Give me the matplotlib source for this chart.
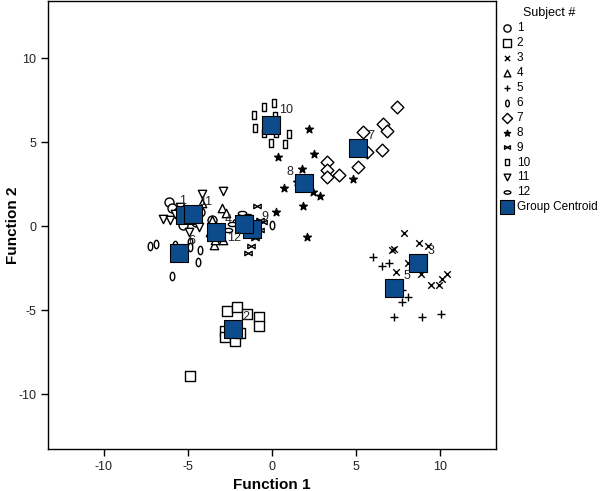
import matplotlib
matplotlib.use("Agg")
import matplotlib.pyplot as plt
from matplotlib.path import Path

plt.rcParams['font.family'] = ['Liberation Sans', 'DejaVu Sans']
plt.rcParams['axes.unicode_minus'] = False

# discriminant scores per subject (Function 1, Function 2)
s1_x = [-6.13, -5.95, -5.30, -4.29, -4.88, -3.57, -5.60, -4.52]
s1_y = [1.41, 1.05, 0.04, 0.81, 0.75, 0.34, 0.81, 0.22]
s2_x = [-2.68, -2.08, -1.49, -0.77, -0.77, -2.80, -2.80, -2.20, -1.90, -4.88]
s2_y = [-5.07, -4.83, -5.25, -5.43, -5.96, -6.26, -6.61, -6.85, -6.38, -8.93]
s3_x = [7.86, 7.14, 7.26, 8.75, 9.29, 8.10, 7.38, 8.87, 9.46, 9.94, 10.12, 10.42]
s3_y = [-0.44, -1.44, -1.39, -1.03, -1.20, -2.22, -2.75, -2.87, -3.52, -3.52, -3.17, -2.87]
s4_x = [-2.98, -3.57, -3.45, -3.39, -2.92, -2.74, -4.17, -3.69]
s4_y = [1.05, 0.34, -1.15, -0.85, -0.85, 0.75, 1.35, -0.37]
s5_x = [6.01, 6.55, 6.96, 7.74, 7.74, 8.10, 7.26, 8.93, 10.06]
s5_y = [-1.86, -2.39, -2.22, -3.82, -4.53, -4.24, -5.42, -5.42, -5.25]
s6_x = [-7.26, -6.90, -4.88, -4.88, -4.29, -5.77, -5.95, 0.00, -4.40]
s6_y = [-1.21, -1.09, -0.97, -1.27, -1.44, -1.15, -2.99, 0.04, -2.16]
s7_x = [3.27, 3.27, 3.27, 3.99, 5.12, 5.42, 6.61, 6.85, 5.65, 6.55, 7.44]
s7_y = [3.79, 3.31, 2.90, 3.07, 3.49, 5.63, 6.10, 5.69, 4.44, 4.50, 7.11]
s8_x = [2.20, 0.36, 2.50, 1.79, 1.49, 0.71, 2.44, 2.86, 1.85, 0.24, 2.08, 4.82]
s8_y = [5.75, 4.14, 4.32, 3.37, 2.60, 2.24, 2.00, 1.77, 1.18, 0.81, -0.67, 2.83]
s9_x = [-0.89, -0.71, -0.71, -1.01, -1.25, -1.43, -0.54, -1.90]
s9_y = [1.17, 0.34, -0.26, -0.73, -1.21, -1.62, 0.22, 0.22]
s10_x = [-1.07, -0.48, 0.12, 0.18, -1.01, -0.48, 0.24, 1.01, -0.06, 0.77]
s10_y = [6.64, 7.11, 7.35, 6.58, 5.81, 5.57, 5.57, 5.51, 4.97, 4.91]
s11_x = [-6.49, -6.07, -5.48, -4.94, -4.17, -2.92, -5.77, -4.35]
s11_y = [0.40, 0.34, 1.11, -0.37, 1.94, 2.06, 0.70, -0.08]
s12_x = [-1.79, -2.08, -1.43, -2.38, -1.19, -2.62, -0.95]
s12_y = [0.75, 0.28, 0.58, 0.10, 0.22, -0.26, -0.02]

subjects = ['1', '2', '3', '4', '5', '6', '7', '8', '9', '10', '11', '12']
xs = [s1_x, s2_x, s3_x, s4_x, s5_x, s6_x, s7_x, s8_x, s9_x, s10_x, s11_x, s12_x]
ys = [s1_y, s2_y, s3_y, s4_y, s5_y, s6_y, s7_y, s8_y, s9_y, s10_y, s11_y, s12_y]

centroid_x = [-5.18, -2.32, 8.69, -3.33, 7.26, -5.54, 5.12, 1.90, -1.19, -0.05, -4.70, -1.67]
centroid_y = [0.64, -6.14, -2.20, -0.37, -3.70, -1.63, 4.62, 2.54, -0.20, 6.00, 0.70, 0.10]

# custom marker shapes
circ = Path.unit_circle()
tall_ellipse = Path(circ.vertices * [0.55, 1.0], circ.codes)
flat_ellipse = Path(circ.vertices * [1.0, 0.5], circ.codes)
narrow_rect = Path([(-0.5, -1), (0.5, -1), (0.5, 1), (-0.5, 1), (-0.5, -1)],
                   [Path.MOVETO, Path.LINETO, Path.LINETO, Path.LINETO, Path.CLOSEPOLY])
bowtie = Path([(-1, 0.6), (1, -0.6), (1, 0.6), (-1, -0.6), (-1, 0.6)],
              [Path.MOVETO, Path.LINETO, Path.LINETO, Path.LINETO, Path.CLOSEPOLY])

styles = [
    dict(marker='o', s=42, facecolors='white', edgecolors='black'),
    dict(marker='s', s=42, facecolors='white', edgecolors='black'),
    dict(marker='x', s=22, c='black'),
    dict(marker='^', s=36, facecolors='white', edgecolors='black'),
    dict(marker='+', s=36, c='black'),
    dict(marker=tall_ellipse, s=36, facecolors='white', edgecolors='black'),
    dict(marker='D', s=42, facecolors='white', edgecolors='black'),
    dict(marker='*', s=34, c='black'),
    dict(marker=bowtie, s=28, facecolors='white', edgecolors='black'),
    dict(marker=narrow_rect, s=38, facecolors='white', edgecolors='black'),
    dict(marker='v', s=36, facecolors='white', edgecolors='black'),
    dict(marker=flat_ellipse, s=36, facecolors='white', edgecolors='black'),
]

label_offsets = [(-2, 10), (9, 9), (9, 9), (9, 9), (9, 9), (9, 9),
                 (9, 9), (-10, 8), (9, 9), (11, 11), (9, 9), (-7, -10)]

fig = plt.figure(figsize=(6, 4.91), dpi=100)
ax = fig.add_axes([0.08, 0.0855, 0.747, 0.9125])

for i, lab in enumerate(subjects):
    ax.scatter(xs[i], ys[i], linewidths=1.0, label=lab, zorder=2, **styles[i])

ax.scatter(centroid_x, centroid_y, marker='s', s=150, c='#0d4c8c',
           edgecolors='black', linewidths=0.8, label='Group Centroid', zorder=3)

for i, lab in enumerate(subjects):
    ax.annotate(lab, (centroid_x[i], centroid_y[i]), xytext=label_offsets[i],
                textcoords='offset points', ha='center', va='center',
                fontsize=9, color='#222222', zorder=4)

ax.set_xlim(-13.33, 13.33)
ax.set_ylim(-13.27, 13.4)
ax.set_xticks([-10, -5, 0, 5, 10])
ax.set_yticks([-10, -5, 0, 5, 10])
ax.tick_params(direction='out', length=5, width=1, labelsize=9,
               labelcolor='#222222')
for sp in ax.spines.values():
    sp.set_linewidth(1)
ax.set_xlabel('Function 1', fontsize=11, fontweight='bold', labelpad=4)
ax.set_ylabel('Function 2', fontsize=11, fontweight='bold')
ax.yaxis.set_label_coords(-0.063, 0.5)

fig.legend(loc='upper left', bbox_to_anchor=(0.82, 1.005), frameon=False,
           title='Subject #', fontsize=8.5, title_fontsize=9,
           handlelength=1.0, handletextpad=0.3, labelspacing=0.25,
           borderpad=0.3, markerscale=0.8)

fig.savefig('out.png', dpi=100)
